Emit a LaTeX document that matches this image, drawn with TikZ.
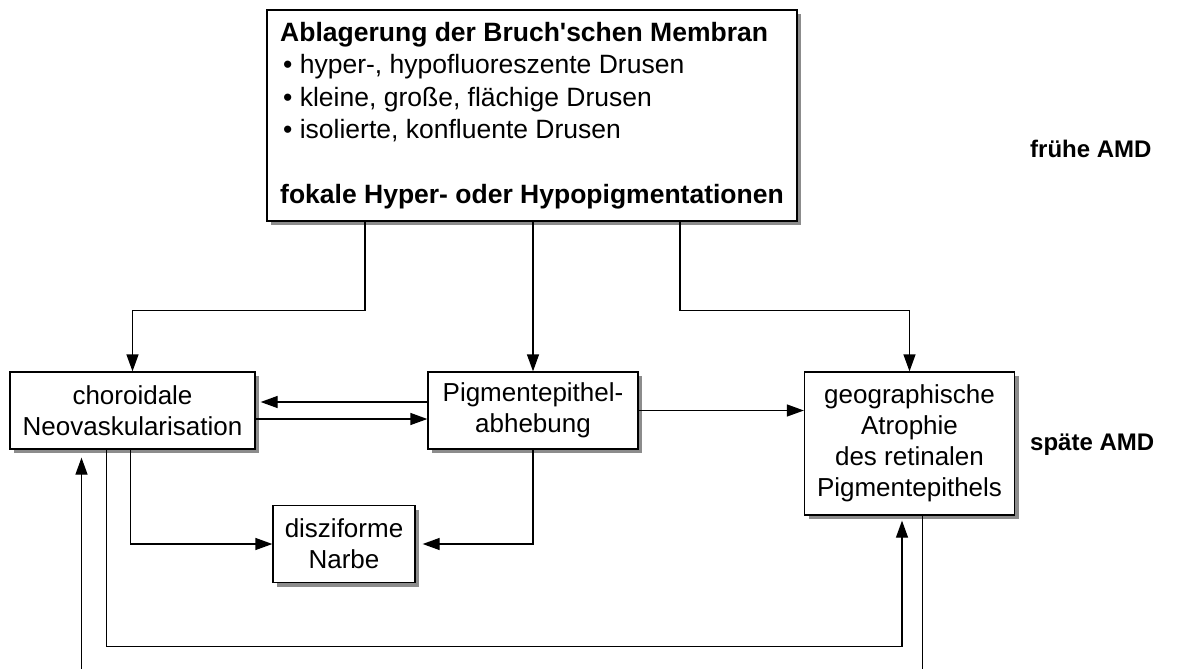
\documentclass[tikz,border=0pt]{standalone}
\usepackage{fontspec}
\setmainfont{Liberation Sans}[Ligatures=TeXOff]
\usetikzlibrary{arrows.meta,shadows}

\tikzset{
  box/.style={draw, line width=1.3pt, fill=white, align=center, inner sep=0pt,
    font=\fontsize{26}{31}\selectfont,
    drop shadow={shadow xshift=4pt, shadow yshift=-4pt, fill=black!45, opacity=1}},
  link/.style={line width=1.3pt, -{Triangle[length=17pt,width=12pt]}},
  plain/.style={line width=1.3pt},
  stage/.style={anchor=base west, inner sep=0pt, font=\fontsize{24}{29}\selectfont\bfseries},
}

\begin{document}
\begin{tikzpicture}[x=1pt,y=1pt,yscale=-1,xscale=1]
\useasboundingbox (0,0) rectangle (1200,669);
%Node: Ablagerung
\node[box, align=left, minimum width=530, minimum height=211, font=\fontsize{26.5}{32.5}\selectfont] (bruch) at (532,115.5)
  {\textbf{Ablagerung der Bruch'schen Membran}\\
   \hspace{3pt}• hyper-, hypofluoreszente Drusen\\
   \hspace{3pt}• kleine, große, flächige Drusen\\
   \hspace{3pt}• isolierte, konfluente Drusen\\
   \mbox{}\\
   \textbf{fokale Hyper- oder Hypopigmentationen}};
%Node: choroidale Neovaskularisation
\node[box, minimum width=245, minimum height=77] (cnv) at (132.5,410.5) {choroidale\\Neovaskularisation};
%Node: Pigmentepithelabhebung
\node[box, minimum width=210, minimum height=77] (ped) at (533,410.5) {Pigmentepithel-\\abhebung};
%Node: geographische Atrophie
\node[box, minimum width=210, minimum height=143] (ga) at (909.5,443.5) {geographische\\Atrophie\\des retinalen\\Pigmentepithels};
%Node: disziforme Narbe
\node[box, minimum width=142, minimum height=77] (narbe) at (344,544) {disziforme\\Narbe};
%Labels: stages
\node[stage] (early) at (1030,157) {frühe AMD};
\node[stage] (late) at (1030,450) {späte AMD};
%free ends at the lower edge
\coordinate (lowL) at (81.5,669);
\coordinate (lowR) at (922.5,669);
%Connectors
\draw[link] ([xshift=-167pt]bruch.south) -- ++(0,89) -| (cnv);
\draw[link] (bruch.south -| ped.north) -- (ped.north);
\draw[link] ([xshift=148pt]bruch.south) -- ++(0,89) -| (ga);
\draw[link, shorten >=5pt] ([yshift=-8.5pt]ped.west) -- ([yshift=-8.5pt]ped.west -| cnv.east);
\draw[link] ([yshift=8.5pt]cnv.east) -- ([yshift=8.5pt]cnv.east -| ped.west);
\draw[link] (ped.east) -- (ped.east -| ga.west);
\draw[link] ([xshift=-2pt]cnv.south) |- (narbe);
\draw[link, shorten >=7pt] (ped.south) |- (narbe);
\draw[link, shorten >=5pt] ([xshift=-26pt]cnv.south) -- ++(0,196.5) -| ([xshift=-7.5pt]ga.south);
\draw[link, shorten >=8pt] (lowL) -- (lowL |- cnv.south);
\draw[plain] (ga.south -| lowR) -- (lowR);
\end{tikzpicture}
\end{document}
